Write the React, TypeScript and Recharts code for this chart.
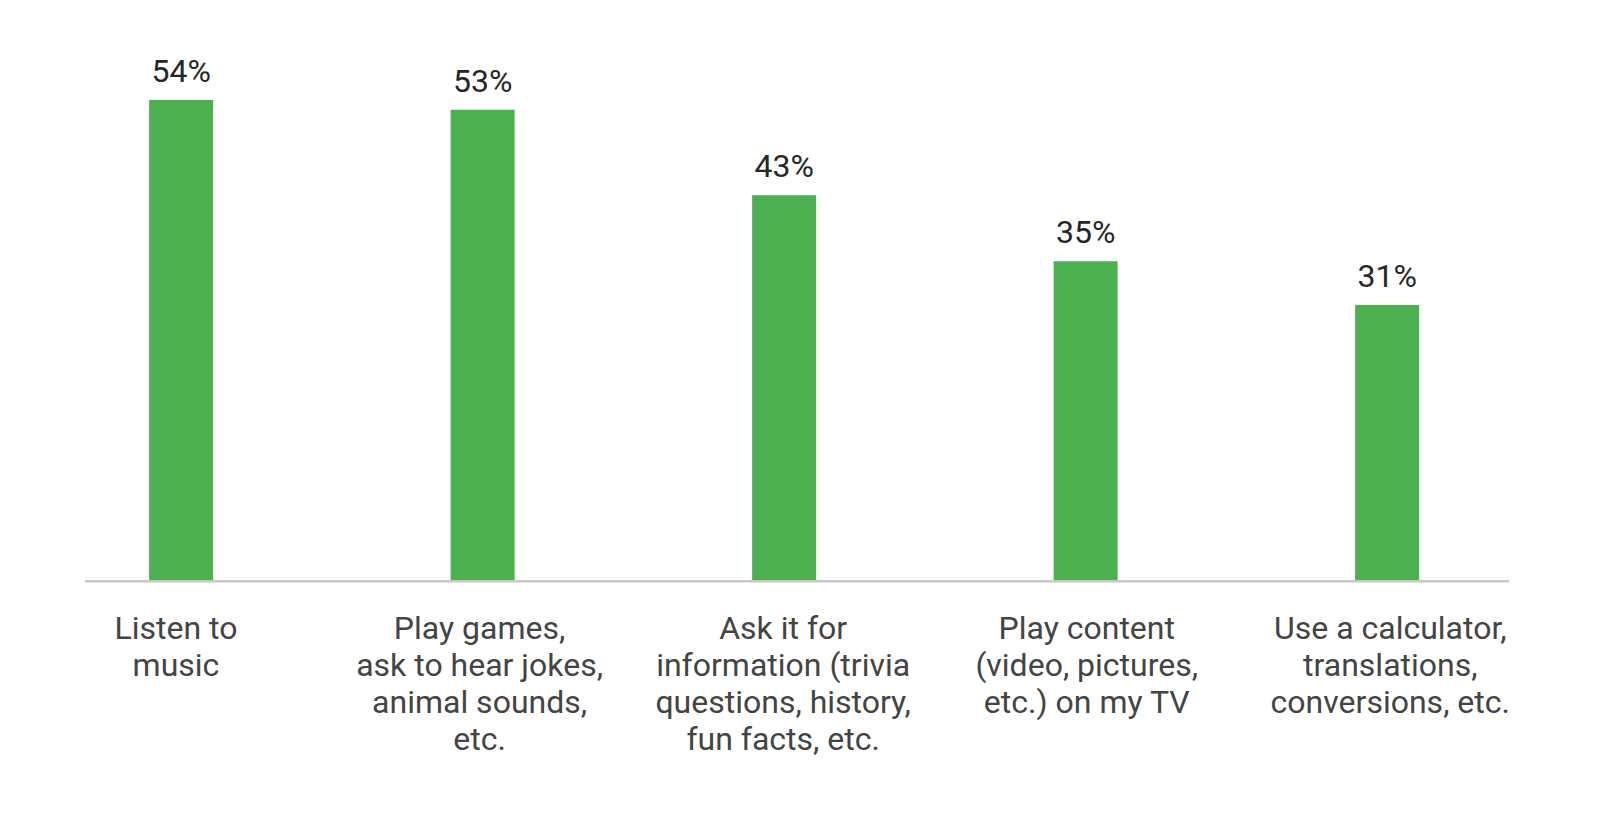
import React from "react";
import { BarChart, Bar, XAxis, YAxis, LabelList } from "recharts";

const categories: string[][] = [
  ["Listen to", "music"],
  ["Play games,", "ask to hear jokes,", "animal sounds,", "etc."],
  ["Ask it for", "information (trivia", "questions, history,", "fun facts, etc."],
  ["Play content", "(video, pictures,", "etc.) on my TV"],
  ["Use a calculator,", "translations,", "conversions, etc."],
];
const values: number[] = [54, 52.9, 43.3, 35.9, 31.0];
const valueLabels: string[] = ["54%", "53%", "43%", "35%", "31%"];
const tickIndexes: number[] = [0, 1, 2, 3, 4];

const data = categories.map((c, i) => ({ idx: i, value: values[i], label: valueLabels[i] }));

const FONT = "Roboto, 'Noto Sans', sans-serif";

const CategoryTick = (props: any) => {
  const { x, y, payload } = props;
  const lines = categories[payload.value] || [];
  return (
    <text
      x={x}
      y={y}
      textAnchor="middle"
      fill="#444444"
      style={{ fontFamily: FONT, fontSize: 32 }}
    >
      {lines.map((ln, i) => (
        <tspan key={i} x={x} dy={i === 0 ? 57.5 : 37}>
          {ln}
        </tspan>
      ))}
    </text>
  );
};

export default function App() {
  return (
    <div style={{ position: "absolute", left: 0, top: 0, width: 1600, height: 820, background: "#ffffff" }}>
      <BarChart
        width={1600}
        height={820}
        data={data}
        margin={{ top: 46.5, right: 91, left: 85, bottom: 0 }}
      >
        <YAxis hide domain={[0, 60]} type="number" />
        <XAxis
          xAxisId="bars"
          type="number"
          dataKey="idx"
          domain={[-0.318, 4.405]}
          ticks={tickIndexes}
          allowDataOverflow
          hide
          height={0}
        />
        <XAxis
          xAxisId="labels"
          type="number"
          dataKey="idx"
          domain={[-0.2997, 4.391]}
          ticks={tickIndexes}
          allowDataOverflow
          height={238.8}
          axisLine={{ stroke: "#c8c8c8", strokeWidth: 2.4 }}
          tickLine={false}
          tickSize={0}
          tickMargin={0}
          interval={0}
          tick={<CategoryTick />}
        />
        <Bar xAxisId="bars" dataKey="value" fill="#4caf50" barSize={64} isAnimationActive={false}>
          <LabelList
            dataKey="label"
            position="top"
            offset={18}
            fill="#262626"
            style={{ fontFamily: FONT, fontSize: 32 }}
          />
        </Bar>
      </BarChart>
    </div>
  );
}
